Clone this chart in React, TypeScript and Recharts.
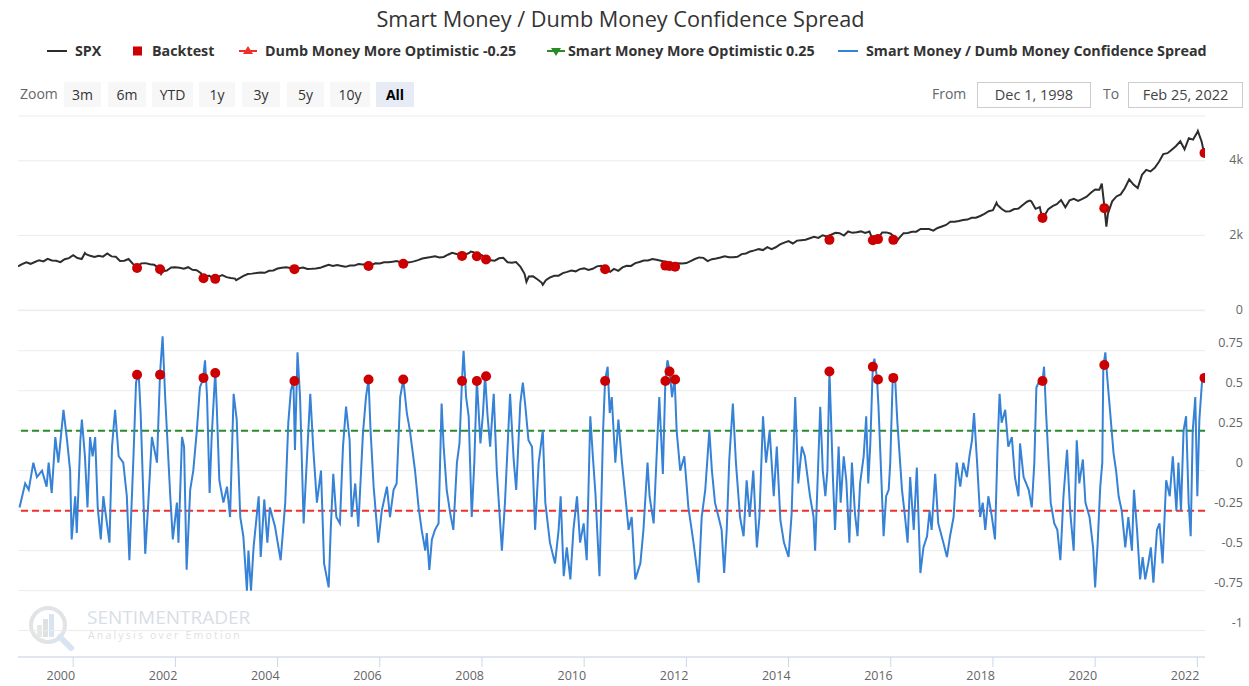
import React from 'react';
import {
  ComposedChart,
  Line,
  Scatter,
  XAxis,
  YAxis,
  CartesianGrid,
  ReferenceLine,
} from 'recharts';

// ---------- DATA ----------
const chartTitle = 'Smart Money / Dumb Money Confidence Spread';
const xStart = 1998.92; // Dec 1, 1998
const xEnd = 2022.15; // Feb 25, 2022
const yearTicks = [2000, 2002, 2004, 2006, 2008, 2010, 2012, 2014, 2016, 2018, 2020, 2022];
const spxTicks = [0, 2000, 4000];
const spreadTicks = [-1, -0.75, -0.5, -0.25, 0, 0.25, 0.5, 0.75];
const zoomButtons = ['3m', '6m', 'YTD', '1y', '3y', '5y', '10y', 'All'];
const fromDate = 'Dec 1, 1998';
const toDate = 'Feb 25, 2022';
const dumbThreshold = -0.25;
const smartThreshold = 0.25;

// SPX month-end closes, Dec 1998 .. Jan 2022
const spx1998to2004 = [
  1229,
  1280, 1238, 1286, 1335, 1302, 1373, 1329, 1320, 1283, 1363, 1389, 1469,
  1394, 1366, 1499, 1452, 1421, 1455, 1431, 1518, 1437, 1429, 1315, 1320,
  1366, 1240, 1160, 1250, 1256, 1224, 1211, 1134, 1041, 1060, 1140, 1148,
  1130, 1107, 1147, 1077, 1067, 990, 912, 916, 815, 886, 936, 880,
  856, 841, 848, 917, 964, 975, 990, 1008, 996, 1051, 1058, 1112,
  1131, 1145, 1126, 1107, 1121, 1141, 1102, 1104, 1115, 1130, 1174, 1212,
];
const spx2005to2011 = [
  1181, 1204, 1181, 1157, 1192, 1191, 1234, 1220, 1229, 1207, 1250, 1248,
  1280, 1281, 1295, 1311, 1270, 1270, 1277, 1304, 1336, 1378, 1401, 1418,
  1438, 1407, 1421, 1482, 1531, 1503, 1455, 1474, 1527, 1549, 1481, 1468,
  1379, 1331, 1323, 1386, 1400, 1280, 1267, 1283, 1166, 969, 896, 903,
  826, 735, 798, 873, 919, 919, 988, 1021, 1057, 1036, 1096, 1115,
  1074, 1105, 1169, 1187, 1089, 1031, 1102, 1049, 1141, 1183, 1181, 1258,
  1286, 1327, 1326, 1364, 1345, 1321, 1292, 1219, 1131, 1253, 1247, 1258,
];
const spx2012to2018 = [
  1312, 1366, 1409, 1398, 1310, 1362, 1379, 1407, 1441, 1412, 1416, 1426,
  1498, 1515, 1569, 1598, 1631, 1606, 1686, 1633, 1682, 1757, 1806, 1848,
  1783, 1860, 1872, 1884, 1924, 1960, 1931, 2003, 1972, 2018, 2068, 2059,
  1995, 2105, 2068, 2086, 2107, 2063, 2104, 1972, 1920, 2079, 2080, 2044,
  1940, 1932, 2060, 2065, 2097, 2099, 2174, 2171, 2168, 2126, 2199, 2239,
  2279, 2364, 2363, 2384, 2412, 2423, 2470, 2472, 2519, 2575, 2648, 2674,
  2824, 2714, 2641, 2648, 2705, 2718, 2816, 2902, 2914, 2712, 2760, 2507,
];
const spx2019to2022 = [
  2704, 2785, 2834, 2946, 2752, 2942, 2980, 2927, 2977, 3038, 3141, 3231,
  3226, 2954, 2585, 2912, 3044, 3100, 3271, 3500, 3363, 3270, 3622, 3756,
  3714, 3811, 3973, 4181, 4204, 4298, 4395, 4523, 4308, 4605, 4567, 4766,
  4516,
];
// intra-month highs / lows seen on the line [year, SPX]
const spxExtremes = [
  [1998.92, 1170], [2000.23, 1527], [2001.72, 966], [2002.56, 797], [2002.78, 777],
  [2003.19, 800], [2007.78, 1565], [2008.87, 752], [2009.19, 677], [2010.51, 1022],
  [2011.76, 1099], [2015.65, 1868], [2016.11, 1829], [2018.07, 2873], [2018.72, 2930],
  [2018.98, 2351], [2020.13, 3386], [2020.22, 2237], [2022.01, 4797], [2022.13, 4225],
  [2022.15, 4330],
];

// Smart/Dumb spread [year, value]
const spread1999to2006 = [
  [1998.95, -0.23], [1999.06, -0.08], [1999.13, -0.12], [1999.22, 0.05], [1999.29, -0.04],
  [1999.39, 0.0], [1999.48, -0.1], [1999.52, 0.05], [1999.58, -0.14], [1999.65, 0.21],
  [1999.71, 0.05], [1999.81, 0.38], [1999.88, 0.19], [1999.94, 0.0], [1999.97, -0.43],
  [2000.04, -0.16], [2000.07, -0.39], [2000.14, 0.19], [2000.17, 0.32], [2000.23, 0.09],
  [2000.28, -0.23], [2000.33, 0.21], [2000.38, 0.09], [2000.43, 0.21], [2000.48, -0.23],
  [2000.54, -0.43], [2000.59, -0.16], [2000.71, -0.45], [2000.76, 0.15], [2000.82, 0.38],
  [2000.89, 0.09], [2000.98, 0.05], [2001.05, -0.16], [2001.1, -0.56], [2001.18, 0.09],
  [2001.23, 0.55], [2001.28, 0.62], [2001.32, 0.36], [2001.41, -0.52], [2001.47, -0.2],
  [2001.54, 0.21], [2001.64, 0.05], [2001.7, 0.61], [2001.75, 0.84], [2001.8, 0.46],
  [2001.9, -0.16], [2001.95, -0.43], [2002.03, -0.2], [2002.06, -0.45], [2002.13, 0.21],
  [2002.17, 0.15], [2002.22, -0.62], [2002.29, -0.12], [2002.35, 0.0], [2002.42, 0.25],
  [2002.48, 0.52], [2002.54, 0.57], [2002.58, 0.69], [2002.62, 0.46], [2002.67, -0.14],
  [2002.71, 0.21], [2002.78, 0.62], [2002.81, 0.4], [2002.86, -0.06], [2002.94, -0.2],
  [2003.01, -0.1], [2003.07, -0.29], [2003.14, 0.48], [2003.2, 0.32], [2003.27, -0.29],
  [2003.33, -0.41], [2003.4, -0.75], [2003.43, -0.5], [2003.48, -0.75], [2003.53, -0.48],
  [2003.63, -0.16], [2003.67, -0.54], [2003.74, -0.18], [2003.8, -0.45], [2003.85, -0.23],
  [2003.95, -0.35], [2004.06, -0.56], [2004.15, -0.2], [2004.21, 0.3], [2004.26, 0.5],
  [2004.31, 0.56], [2004.34, 0.13], [2004.39, 0.74], [2004.44, 0.46], [2004.51, -0.33],
  [2004.57, 0.05], [2004.64, 0.48], [2004.7, 0.13], [2004.77, -0.2], [2004.85, 0.0],
  [2004.91, -0.58], [2005.0, -0.73], [2005.04, -0.37], [2005.09, -0.02], [2005.15, -0.29],
  [2005.22, -0.33], [2005.28, 0.15], [2005.34, 0.4], [2005.41, 0.19], [2005.45, -0.29],
  [2005.52, -0.08], [2005.58, -0.35], [2005.67, 0.23], [2005.73, 0.46], [2005.78, 0.57],
  [2005.82, 0.25], [2005.88, -0.1], [2005.97, -0.45], [2006.04, -0.25], [2006.14, -0.1],
  [2006.2, -0.29], [2006.27, -0.12], [2006.33, -0.08], [2006.4, 0.46], [2006.46, 0.57],
  [2006.53, 0.36], [2006.59, 0.25],
];
const spread2006to2014 = [
  [2006.69, 0.0], [2006.76, -0.23], [2006.82, -0.37], [2006.89, -0.5], [2006.92, -0.39],
  [2006.97, -0.62], [2007.02, -0.43], [2007.08, -0.37], [2007.15, -0.33], [2007.21, 0.42],
  [2007.25, 0.15], [2007.31, -0.12], [2007.38, -0.27], [2007.44, -0.37], [2007.51, 0.05],
  [2007.56, 0.17], [2007.61, 0.57], [2007.64, 0.75], [2007.69, 0.46], [2007.74, 0.34],
  [2007.8, -0.29], [2007.85, 0.05], [2007.9, 0.57], [2007.97, 0.17], [2008.02, 0.36],
  [2008.06, 0.6], [2008.11, 0.34], [2008.16, 0.15], [2008.23, 0.48], [2008.29, 0.0],
  [2008.39, -0.5], [2008.45, -0.2], [2008.55, 0.48], [2008.62, 0.07], [2008.67, -0.12],
  [2008.75, 0.42], [2008.8, 0.55], [2008.85, 0.4], [2008.91, 0.19], [2008.98, 0.15],
  [2009.04, -0.37], [2009.11, 0.05], [2009.19, 0.25], [2009.24, -0.2], [2009.33, -0.45],
  [2009.43, -0.58], [2009.5, -0.37], [2009.54, -0.16], [2009.6, -0.66], [2009.66, -0.48],
  [2009.73, -0.68], [2009.79, -0.37], [2009.86, -0.16], [2009.92, -0.45], [2009.99, -0.33],
  [2010.05, -0.56], [2010.12, 0.34], [2010.17, 0.09], [2010.22, -0.14], [2010.3, -0.66],
  [2010.37, 0.25], [2010.41, 0.57], [2010.46, 0.65], [2010.5, 0.36], [2010.54, 0.46],
  [2010.61, 0.05], [2010.67, 0.32], [2010.74, 0.05], [2010.8, -0.14], [2010.87, -0.37],
  [2010.93, -0.29], [2011.0, -0.68], [2011.1, -0.58], [2011.16, -0.37], [2011.24, 0.05],
  [2011.28, -0.16], [2011.36, -0.33], [2011.44, 0.25], [2011.47, 0.46], [2011.54, -0.02],
  [2011.59, 0.57], [2011.63, 0.69], [2011.67, 0.63], [2011.72, 0.46], [2011.77, 0.58],
  [2011.81, 0.25], [2011.88, 0.0], [2011.96, 0.09], [2012.04, -0.23], [2012.14, -0.45],
  [2012.24, -0.7], [2012.3, -0.29], [2012.37, -0.12], [2012.45, 0.25], [2012.5, 0.0],
  [2012.56, -0.2], [2012.63, -0.29], [2012.69, -0.37], [2012.74, -0.64], [2012.79, -0.37],
  [2012.84, 0.07], [2012.91, 0.42], [2012.97, 0.05], [2013.05, -0.29], [2013.12, -0.41],
  [2013.18, -0.06], [2013.24, -0.29], [2013.31, 0.0], [2013.38, -0.48], [2013.43, -0.29],
  [2013.5, 0.34], [2013.56, 0.05], [2013.63, 0.25], [2013.71, -0.16], [2013.77, 0.15],
  [2013.84, -0.31], [2013.91, -0.45], [2014.0, -0.54], [2014.06, -0.27], [2014.13, 0.46],
  [2014.19, -0.08], [2014.26, 0.15], [2014.32, 0.09], [2014.42, -0.16], [2014.49, -0.29],
];
const spread2014to2022 = [
  [2014.52, -0.5], [2014.62, 0.4], [2014.67, 0.0], [2014.72, -0.16], [2014.76, 0.0],
  [2014.8, 0.62], [2014.83, 0.34], [2014.87, -0.06], [2014.91, -0.37], [2014.98, 0.15],
  [2015.02, -0.2], [2015.08, 0.09], [2015.13, -0.06], [2015.19, -0.45], [2015.24, 0.05],
  [2015.3, -0.27], [2015.35, -0.41], [2015.4, -0.08], [2015.47, 0.09], [2015.52, 0.34],
  [2015.56, -0.08], [2015.6, 0.17], [2015.65, 0.66], [2015.68, 0.7], [2015.73, 0.58],
  [2015.76, 0.4], [2015.81, 0.0], [2015.86, -0.41], [2015.91, -0.16], [2015.96, -0.12],
  [2015.99, 0.05], [2016.04, 0.59], [2016.09, 0.55], [2016.13, 0.3], [2016.22, -0.12],
  [2016.28, -0.29], [2016.33, -0.45], [2016.38, -0.04], [2016.45, -0.37], [2016.51, 0.02],
  [2016.58, -0.64], [2016.64, -0.48], [2016.71, -0.41], [2016.76, -0.25], [2016.8, -0.37],
  [2016.87, -0.02], [2016.93, -0.33], [2017.03, -0.45], [2017.1, -0.54], [2017.16, -0.41],
  [2017.23, -0.29], [2017.29, 0.05], [2017.36, -0.1], [2017.42, 0.05], [2017.49, -0.04],
  [2017.54, 0.09], [2017.59, 0.19], [2017.63, 0.36], [2017.69, 0.05], [2017.75, -0.29],
  [2017.8, -0.2], [2017.85, -0.37], [2017.91, -0.16], [2017.98, -0.29], [2018.04, -0.43],
  [2018.09, 0.15], [2018.13, 0.48], [2018.17, 0.3], [2018.24, 0.38], [2018.3, 0.15],
  [2018.37, 0.21], [2018.43, -0.04], [2018.5, -0.16], [2018.53, 0.17], [2018.6, -0.04],
  [2018.65, -0.08], [2018.7, -0.12], [2018.76, -0.23], [2018.81, 0.05], [2018.85, 0.52],
  [2018.92, 0.57], [2018.97, 0.56], [2019.0, 0.65], [2019.04, 0.36], [2019.09, 0.05],
  [2019.13, -0.2], [2019.2, -0.33], [2019.26, -0.37], [2019.32, -0.56], [2019.38, -0.16],
  [2019.45, 0.13], [2019.51, -0.25], [2019.58, -0.5], [2019.64, 0.19], [2019.69, -0.08],
  [2019.76, 0.07], [2019.81, -0.2], [2019.89, -0.29], [2019.96, -0.48], [2020.0, -0.73],
  [2020.05, -0.45], [2020.1, -0.1], [2020.14, 0.05], [2020.16, 0.65], [2020.2, 0.74],
  [2020.24, 0.57], [2020.29, 0.38], [2020.36, 0.11], [2020.41, 0.0], [2020.46, -0.16],
  [2020.52, -0.25], [2020.59, -0.48], [2020.65, -0.29], [2020.72, -0.5], [2020.76, -0.12],
  [2020.82, -0.37], [2020.88, -0.68], [2020.93, -0.54], [2020.98, -0.68], [2021.04, -0.58],
  [2021.09, -0.48], [2021.14, -0.7], [2021.21, -0.37], [2021.26, -0.33], [2021.32, -0.58],
  [2021.39, -0.06], [2021.46, -0.16], [2021.52, 0.09], [2021.59, -0.25], [2021.63, 0.05],
  [2021.68, -0.25], [2021.73, 0.25], [2021.78, 0.34], [2021.83, -0.2], [2021.87, -0.41],
  [2021.91, 0.25], [2021.96, 0.46], [2022.0, -0.16], [2022.04, 0.32], [2022.09, 0.55],
  [2022.13, 0.59],
];

// Backtest signal dates and the values at those dates
const backtestDates = [
  2001.25, 2001.7, 2002.55, 2002.78, 2004.33, 2005.78, 2006.46, 2007.61, 2007.9, 2008.08,
  2010.41, 2011.59, 2011.67, 2011.78, 2014.8, 2015.65, 2015.75, 2016.05, 2018.97, 2020.18,
  2022.14,
];
const backtestSpx = [
  1128, 1090, 850, 835, 1095, 1180, 1240, 1450, 1440, 1355,
  1090, 1190, 1180, 1160, 1880, 1870, 1900, 1880, 2470, 2730,
  4210,
];
const backtestSpread = [
  0.6, 0.6, 0.58, 0.61, 0.56, 0.57, 0.57, 0.56, 0.56, 0.59,
  0.56, 0.56, 0.62, 0.57, 0.62, 0.65, 0.57, 0.58, 0.56, 0.66,
  0.58,
];

// ---------- BUILD SERIES ----------
const monthlyCloses = [...spx1998to2004, ...spx2005to2011, ...spx2012to2018, ...spx2019to2022];
const spxData = [
  ...monthlyCloses.map((v, i) => ({ t: 1999 + i / 12, v })),
  ...spxExtremes.map(([t, v]) => ({ t, v })),
]
  .filter((d) => d.t <= xEnd)
  .sort((a, b) => a.t - b.t);
const spreadData = [...spread1999to2006, ...spread2006to2014, ...spread2014to2022].map(
  ([t, v]) => ({ t, v })
);
const backtestSpxData = backtestDates.map((t, i) => ({ t, v: backtestSpx[i] }));
const backtestSpreadData = backtestDates.map((t, i) => ({ t, v: backtestSpread[i] }));

// ---------- STYLE ----------
const W = 1249;
const H = 686;
const FONT = '"Open Sans", "DejaVu Sans", sans-serif';
const BLUE = '#3682d6';
const BLACK = '#2d2d2d';
const RED = '#cc0000';
const GREEN = '#2a8a2a';
const DASHRED = '#f0302a';
const GRID = '#ececec';
const AXIS = '#ccd6eb';
const LABEL = '#666666';
const PLOT_LEFT = 18;
const AXIS_W = 44;

const dot = (props: any) => <circle cx={props.cx} cy={props.cy} r={5} fill={RED} />;

const SpxTick = (props: any) => {
  const { y, payload } = props;
  const v = payload.value;
  const label = v === 0 ? '0' : `${v / 1000}k`;
  return (
    <text x={W - 6} y={y - 1} textAnchor="end" dominantBaseline="central" fontSize={12.5} fill={LABEL} fontFamily={FONT}>
      {label}
    </text>
  );
};

const SpreadTick = (props: any) => {
  const { y, payload } = props;
  return (
    <text x={W - 6} y={y - 8} textAnchor="end" dominantBaseline="central" fontSize={12.5} fill={LABEL} fontFamily={FONT}>
      {String(payload.value)}
    </text>
  );
};

const YearTick = (props: any) => {
  const { x, y, payload } = props;
  return (
    <text x={x + 2} y={y + 6} textAnchor="end" dominantBaseline="central" fontSize={12.5} fill={LABEL} fontFamily={FONT}>
      {String(payload.value)}
    </text>
  );
};

const legendText: React.CSSProperties = {
  position: 'absolute',
  top: 41,
  fontSize: 14.3,
  fontWeight: 700,
  color: '#333333',
  whiteSpace: 'nowrap',
  lineHeight: '20px',
};

const Legend = () => (
  <>
    <svg style={{ position: 'absolute', left: 0, top: 40 }} width={W} height={24}>
      <line x1={47} x2={67} y1={11} y2={11} stroke={BLACK} strokeWidth={2} />
      <rect x={133} y={6.5} width={9} height={9} fill={RED} />
      <line x1={239} x2={257} y1={11} y2={11} stroke={DASHRED} strokeWidth={2} />
      <path d="M248 6 L253 14 L243 14 Z" fill={DASHRED} />
      <line x1={547} x2={565} y1={11} y2={11} stroke={GREEN} strokeWidth={2} />
      <path d="M556 16 L561 8 L551 8 Z" fill={GREEN} />
      <line x1={838} x2={858} y1={11} y2={11} stroke={BLUE} strokeWidth={2} />
    </svg>
    <div style={{ ...legendText, left: 75 }}>SPX</div>
    <div style={{ ...legendText, left: 152 }}>Backtest</div>
    <div style={{ ...legendText, left: 265 }}>Dumb Money More Optimistic -0.25</div>
    <div style={{ ...legendText, left: 568 }}>Smart Money More Optimistic 0.25</div>
    <div style={{ ...legendText, left: 866 }}>{chartTitle}</div>
  </>
);

const buttonLefts = [64, 108, 152, 199, 242, 287, 330, 376];
const buttonWidths = [37, 38, 41, 36, 38, 37, 40, 38];

const RangeSelector = () => (
  <>
    <div style={{ position: 'absolute', left: 20, top: 84, fontSize: 14, color: LABEL, lineHeight: '20px' }}>Zoom</div>
    {zoomButtons.map((b, i) => {
      const sel = b === 'All';
      return (
        <div
          key={b}
          style={{
            position: 'absolute',
            left: buttonLefts[i],
            top: 82,
            width: buttonWidths[i],
            height: 25,
            background: sel ? '#e6ebf5' : '#f7f7f7',
            color: sel ? '#000000' : '#333333',
            fontWeight: sel ? 700 : 400,
            fontSize: 14,
            lineHeight: '25px',
            textAlign: 'center',
          }}
        >
          {b}
        </div>
      );
    })}
    <div style={{ position: 'absolute', left: 932, top: 84, fontSize: 14, color: LABEL, lineHeight: '20px' }}>From</div>
    <div
      style={{
        position: 'absolute', left: 977, top: 82, width: 112, height: 24, border: '1px solid #cccccc',
        fontSize: 14.5, color: '#444', lineHeight: '24px', textAlign: 'center',
      }}
    >
      {fromDate}
    </div>
    <div style={{ position: 'absolute', left: 1103, top: 84, fontSize: 14, color: LABEL, lineHeight: '20px' }}>To</div>
    <div
      style={{
        position: 'absolute', left: 1128, top: 82, width: 113, height: 24, border: '1px solid #cccccc',
        fontSize: 14.5, color: '#444', lineHeight: '24px', textAlign: 'center',
      }}
    >
      {toDate}
    </div>
  </>
);

const Watermark = () => (
  <div style={{ position: 'absolute', left: 24, top: 603, width: 240, height: 48, opacity: 0.55 }}>
    <svg width={60} height={48} style={{ position: 'absolute', left: 0, top: 0 }}>
      <circle cx={24} cy={22} r={17} fill="none" stroke="#c9ced3" strokeWidth={4} />
      <rect x={13} y={22} width={5} height={12} fill="#d5d5d5" />
      <rect x={19} y={16} width={5} height={18} fill="#c8c8c8" />
      <rect x={25} y={11} width={5} height={23} fill="#b9cfe6" />
      <line x1={36} y1={34} x2={47} y2={45} stroke="#b9cfe6" strokeWidth={6} strokeLinecap="round" />
    </svg>
    <div style={{ position: 'absolute', left: 63, top: 4, fontSize: 19, color: '#b7c4d1', whiteSpace: 'nowrap', lineHeight: '20px' }}>
      SENTIMENTRADER
    </div>
    <div style={{ position: 'absolute', left: 64, top: 26, fontSize: 10.5, color: '#c4c9ce', letterSpacing: 2.2, whiteSpace: 'nowrap', lineHeight: '12px' }}>
      Analysis over Emotion
    </div>
  </div>
);

export default function App() {
  return (
    <div
      style={{
        position: 'absolute', left: 0, top: 0, width: W, height: H, background: '#ffffff',
        fontFamily: FONT, overflow: 'hidden',
      }}
    >
      <div
        style={{
          position: 'absolute', left: 0, top: 4, width: W - 8, textAlign: 'center', fontSize: 21.7,
          color: '#333333', lineHeight: '30px',
        }}
      >
        {chartTitle}
      </div>
      <Legend />
      <RangeSelector />
      <Watermark />

      {/* SPX pane */}
      <div style={{ position: 'absolute', left: 0, top: 0 }}>
        <ComposedChart width={W} height={H} margin={{ top: 116, bottom: 376, left: PLOT_LEFT, right: 0 }}>
          <CartesianGrid vertical={false} stroke={GRID} />
          <XAxis type="number" dataKey="t" domain={[xStart, xEnd]} allowDataOverflow hide height={0} />
          <YAxis
            type="number"
            dataKey="v"
            orientation="right"
            width={AXIS_W}
            domain={[0, 5200]}
            ticks={spxTicks}
            axisLine={false}
            tickLine={false}
            tick={<SpxTick />}
            allowDataOverflow
          />
          <Line data={spxData} dataKey="v" stroke={BLACK} strokeWidth={2} dot={false} isAnimationActive={false} />
          <Scatter data={backtestSpxData} dataKey="v" fill={RED} shape={dot} isAnimationActive={false} />
        </ComposedChart>
      </div>

      {/* Spread pane */}
      <div style={{ position: 'absolute', left: 0, top: 0 }}>
        <ComposedChart width={W} height={H} margin={{ top: 310.7, bottom: 0, left: PLOT_LEFT, right: 0 }}>
          <CartesianGrid vertical={false} stroke={GRID} />
          <XAxis
            type="number"
            dataKey="t"
            domain={[xStart, xEnd]}
            allowDataOverflow
            ticks={yearTicks}
            height={29}
            tickSize={10}
            axisLine={{ stroke: AXIS }}
            tickLine={{ stroke: AXIS }}
            tick={<YearTick />}
          />
          <YAxis
            type="number"
            dataKey="v"
            orientation="right"
            width={AXIS_W}
            domain={[-1.165, 1.0]}
            ticks={spreadTicks}
            axisLine={false}
            tickLine={false}
            tick={<SpreadTick />}
            allowDataOverflow
          />
          <ReferenceLine y={smartThreshold} stroke={GREEN} strokeWidth={2} strokeDasharray="7 4" />
          <ReferenceLine y={dumbThreshold} stroke={DASHRED} strokeWidth={2} strokeDasharray="7 4" />
          <Line data={spreadData} dataKey="v" stroke={BLUE} strokeWidth={2} dot={false} isAnimationActive={false} />
          <Scatter data={backtestSpreadData} dataKey="v" fill={RED} shape={dot} isAnimationActive={false} />
        </ComposedChart>
      </div>
    </div>
  );
}
